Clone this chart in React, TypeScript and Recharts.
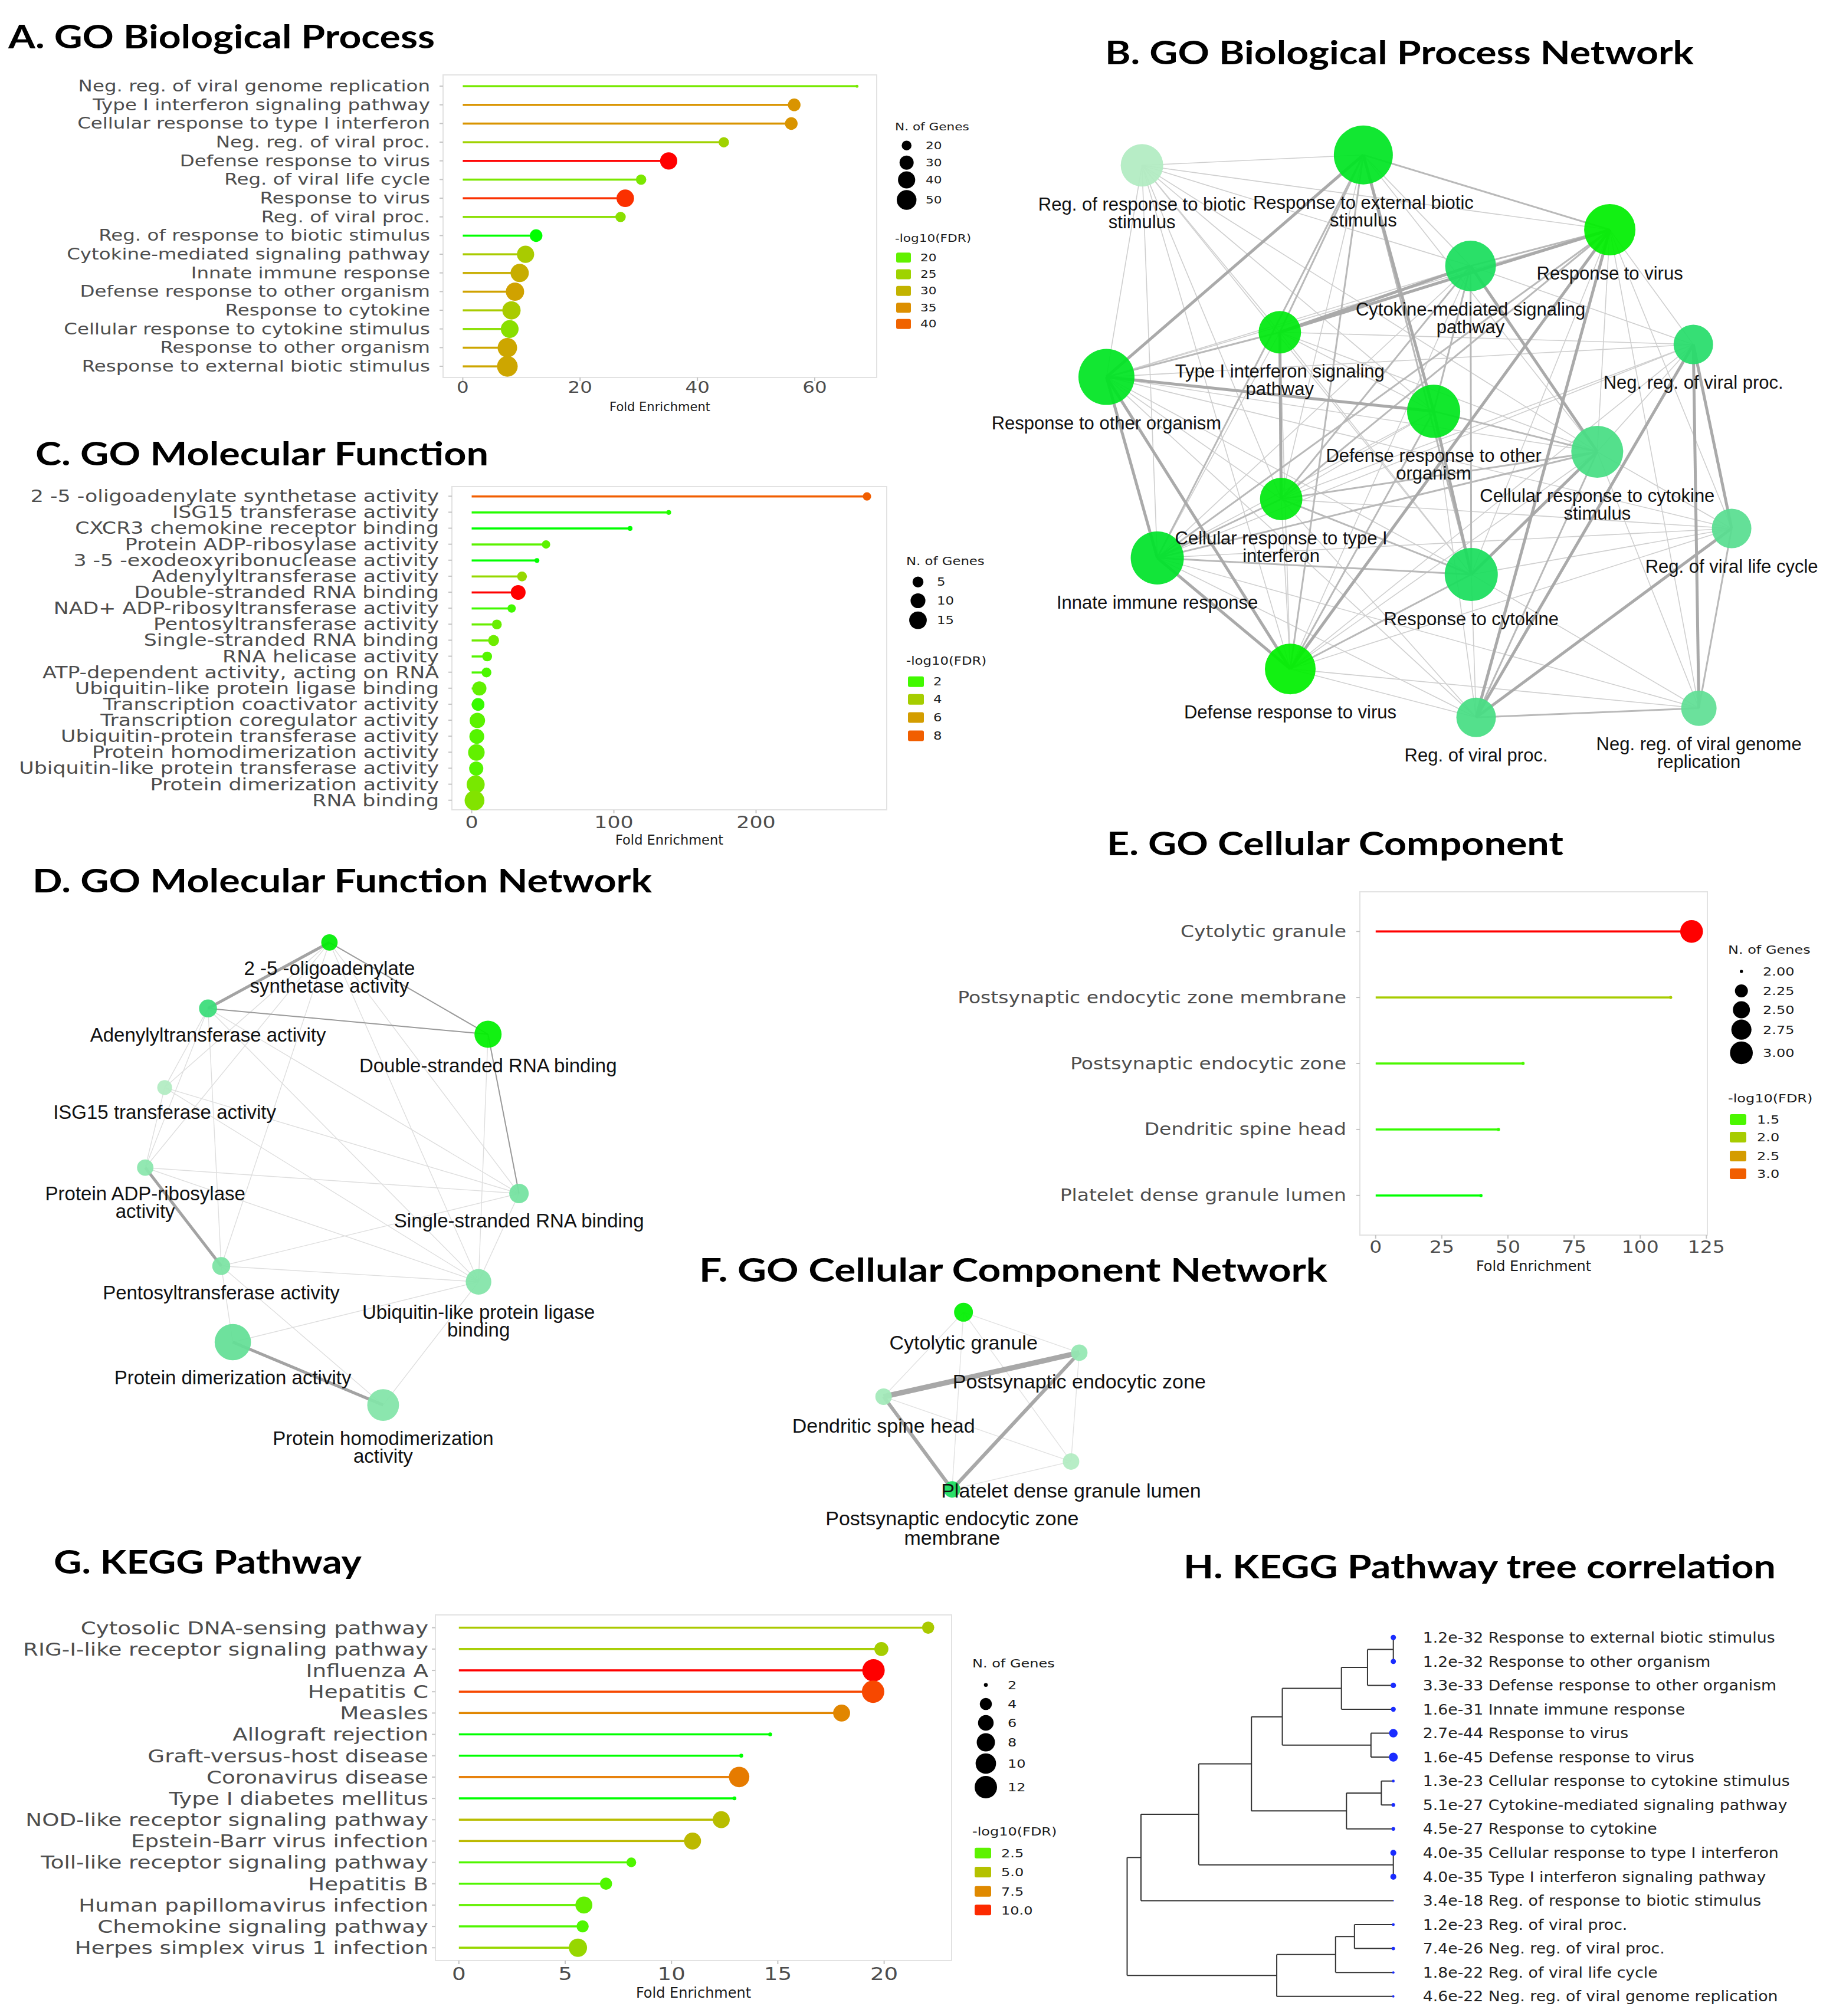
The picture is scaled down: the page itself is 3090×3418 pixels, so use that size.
import React from "react";
import { BarChart, Bar, XAxis, YAxis, ScatterChart, Scatter } from "recharts";

const GG_FONT = "'DejaVu Sans', Verdana, sans-serif";
const NET_FONT = "'Liberation Sans', Arial, sans-serif";
const TITLE_FONT = "Lato, 'Open Sans', sans-serif";

// ---- A. GO Biological Process ----
const bpTerms = [
  "Neg. reg. of viral genome replication",
  "Type I interferon signaling pathway",
  "Cellular response to type I interferon",
  "Neg. reg. of viral proc.",
  "Defense response to virus",
  "Reg. of viral life cycle",
  "Response to virus",
  "Reg. of viral proc.",
  "Reg. of response to biotic stimulus",
  "Cytokine-mediated signaling pathway",
  "Innate immune response",
  "Defense response to other organism",
  "Response to cytokine",
  "Cellular response to cytokine stimulus",
  "Response to other organism",
  "Response to external biotic stimulus",
];
const bpFold = [67.2, 56.5, 56.0, 44.5, 35.1, 30.4, 27.7, 26.9, 12.5, 10.7, 9.7, 8.9, 8.3, 8.0, 7.6, 7.6];
const bpGenes = [14, 26, 26, 21, 40, 21, 41, 21, 26, 40, 44, 44, 44, 42, 49, 54];
const bpLogFdr = [21.3, 34.4, 34.4, 25.1, 44.8, 21.7, 43.6, 22.9, 17.5, 26.3, 30.8, 32.5, 26.3, 22.9, 31.9, 31.9];
const bpSizeBreaks = [20, 30, 40, 50];
const bpColorBreaks = [20, 25, 30, 35, 40];

// ---- C. GO Molecular Function ----
const mfTerms = [
  "2 -5 -oligoadenylate synthetase activity",
  "ISG15 transferase activity",
  "CXCR3 chemokine receptor binding",
  "Protein ADP-ribosylase activity",
  "3 -5 -exodeoxyribonuclease activity",
  "Adenylyltransferase activity",
  "Double-stranded RNA binding",
  "NAD+ ADP-ribosyltransferase activity",
  "Pentosyltransferase activity",
  "Single-stranded RNA binding",
  "RNA helicase activity",
  "ATP-dependent activity, acting on RNA",
  "Ubiquitin-like protein ligase binding",
  "Transcription coactivator activity",
  "Transcription coregulator activity",
  "Ubiquitin-protein transferase activity",
  "Protein homodimerization activity",
  "Ubiquitin-like protein transferase activity",
  "Protein dimerization activity",
  "RNA binding",
];
const mfFold = [278, 138.6, 111.4, 52.3, 45.9, 35.4, 32.7, 28.1, 17.7, 15.4, 10.9, 10.4, 5.4, 4.5, 4.0, 3.6, 3.3, 3.2, 2.8, 2.0];
const mfGenes = [3, 2, 2, 3, 2, 4, 10, 3, 4, 5, 4, 4, 9, 7, 11, 10, 13, 9, 16, 20];
const mfLogFdr = [8.0, 1.8, 1.7, 2.3, 1.7, 3.5, 9.2, 2.0, 2.5, 2.6, 2.2, 2.1, 2.4, 1.9, 2.3, 2.2, 2.4, 2.2, 2.8, 3.0];
const mfSizeBreaks = [5, 10, 15];
const mfColorBreaks = [2, 4, 6, 8];

// ---- E. GO Cellular Component ----
const ccTerms = [
  "Cytolytic granule",
  "Postsynaptic endocytic zone membrane",
  "Postsynaptic endocytic zone",
  "Dendritic spine head",
  "Platelet dense granule lumen",
];
const ccFold = [119.4, 111.5, 55.7, 46.4, 39.8];
const ccGenes = [3, 2, 2, 2, 2];
const ccLogFdr = [3.3, 2.0, 1.5, 1.45, 1.4];
const ccSizeBreaks = [2, 2.25, 2.5, 2.75, 3];
const ccColorBreaks = [1.5, 2, 2.5, 3];

// ---- G. KEGG Pathway ----
const keggTerms = [
  "Cytosolic DNA-sensing pathway",
  "RIG-I-like receptor signaling pathway",
  "Influenza A",
  "Hepatitis C",
  "Measles",
  "Allograft rejection",
  "Graft-versus-host disease",
  "Coronavirus disease",
  "Type I diabetes mellitus",
  "NOD-like receptor signaling pathway",
  "Epstein-Barr virus infection",
  "Toll-like receptor signaling pathway",
  "Hepatitis B",
  "Human papillomavirus infection",
  "Chemokine signaling pathway",
  "Herpes simplex virus 1 infection",
];
const keggFold = [22.07, 19.87, 19.5, 19.48, 18.0, 14.64, 13.28, 13.18, 12.96, 12.34, 10.99, 8.11, 6.92, 5.88, 5.82, 5.6];
const keggGenes = [4, 5, 12, 12, 7, 2, 2, 10, 2, 7, 7, 3, 4, 7, 4, 8];
const keggLogFdr = [4.6, 4.4, 10.3, 9.5, 7.6, 1.8, 1.8, 8.0, 1.8, 5.2, 5.4, 2.3, 2.3, 2.6, 2.3, 3.9];
const keggSizeBreaks = [2, 4, 6, 8, 10, 12];
const keggColorBreaks = [2.5, 5, 7.5, 10];

// ---- B. BP network (layout units 0-100) ----
type Edge = [number, number, number];
const bpNetTerms = [
  "Reg. of response to biotic stimulus",
  "Response to external biotic stimulus",
  "Response to virus",
  "Cytokine-mediated signaling pathway",
  "Type I interferon signaling pathway",
  "Neg. reg. of viral proc.",
  "Response to other organism",
  "Defense response to other organism",
  "Cellular response to cytokine stimulus",
  "Cellular response to type I interferon",
  "Reg. of viral life cycle",
  "Innate immune response",
  "Response to cytokine",
  "Defense response to virus",
  "Reg. of viral proc.",
  "Neg. reg. of viral genome replication",
];
const bpNetLabels = [
  "Reg. of response to biotic\nstimulus",
  "Response to external biotic\nstimulus",
  "Response to virus",
  "Cytokine-mediated signaling\npathway",
  "Type I interferon signaling\npathway",
  "Neg. reg. of viral proc.",
  "Response to other organism",
  "Defense response to other\norganism",
  "Cellular response to cytokine\nstimulus",
  "Cellular response to type I\ninterferon",
  "Reg. of viral life cycle",
  "Innate immune response",
  "Response to cytokine",
  "Defense response to virus",
  "Reg. of viral proc.",
  "Neg. reg. of viral genome\nreplication",
];
const bpNetX = [9.8, 41.6, 77.0, 57.0, 29.6, 89.0, 4.7, 51.7, 75.2, 29.8, 94.5, 12.0, 57.1, 31.1, 57.8, 89.8];
const bpNetY = [5.8, 4.1, 16.3, 22.2, 33.0, 35.0, 40.3, 45.9, 52.5, 60.2, 65.0, 69.8, 72.5, 87.9, 95.8, 94.3];
const bpNetEdges: Edge[] = [
  [0, 1, 1], [0, 2, 1], [0, 3, 1], [0, 4, 1], [0, 6, 1], [0, 7, 1], [0, 8, 1], [0, 9, 1], [0, 11, 1], [0, 12, 1], [0, 13, 1],
  [1, 2, 2], [1, 3, 1], [1, 4, 2], [1, 6, 3], [1, 7, 3], [1, 8, 1], [1, 9, 1], [1, 11, 2], [1, 12, 2], [1, 13, 2],
  [2, 3, 2], [2, 4, 3], [2, 5, 1], [2, 6, 1], [2, 8, 1], [2, 9, 2], [2, 10, 1], [2, 11, 2], [2, 12, 1], [2, 13, 3], [2, 14, 3], [2, 15, 1],
  [3, 4, 3], [3, 5, 1], [3, 6, 1], [3, 7, 2], [3, 8, 3], [3, 9, 2], [3, 11, 1], [3, 12, 2], [3, 13, 1],
  [4, 5, 1], [4, 6, 2], [4, 7, 1], [4, 8, 1], [4, 9, 3], [4, 11, 1], [4, 12, 1], [4, 13, 1],
  [5, 6, 1], [5, 8, 1], [5, 9, 1], [5, 10, 3], [5, 11, 1], [5, 13, 1], [5, 14, 3], [5, 15, 3],
  [6, 7, 3], [6, 8, 1], [6, 9, 1], [6, 10, 1], [6, 11, 3], [6, 12, 1], [6, 13, 3], [6, 14, 1],
  [7, 8, 2], [7, 9, 1], [7, 11, 1], [7, 12, 3], [7, 13, 2], [7, 14, 1],
  [8, 9, 2], [8, 10, 1], [8, 11, 2], [8, 12, 3], [8, 13, 1], [8, 14, 2], [8, 15, 1],
  [9, 10, 1], [9, 11, 2], [9, 12, 2], [9, 13, 1], [9, 14, 1],
  [10, 11, 1], [10, 12, 1], [10, 13, 1], [10, 14, 3], [10, 15, 2],
  [11, 12, 2], [11, 13, 3], [11, 14, 1], [11, 15, 1],
  [12, 13, 2], [12, 14, 1], [12, 15, 1],
  [13, 14, 1], [13, 15, 1],
  [14, 15, 2],
];

// ---- D. MF network ----
const mfNetTerms = [
  "2 -5 -oligoadenylate synthetase activity",
  "Adenylyltransferase activity",
  "Double-stranded RNA binding",
  "ISG15 transferase activity",
  "Protein ADP-ribosylase activity",
  "Single-stranded RNA binding",
  "Pentosyltransferase activity",
  "Ubiquitin-like protein ligase binding",
  "Protein dimerization activity",
  "Protein homodimerization activity",
];
const mfNetLabels = [
  "2 -5 -oligoadenylate\nsynthetase activity",
  "Adenylyltransferase activity",
  "Double-stranded RNA binding",
  "ISG15 transferase activity",
  "Protein ADP-ribosylase\nactivity",
  "Single-stranded RNA binding",
  "Pentosyltransferase activity",
  "Ubiquitin-like protein ligase\nbinding",
  "Protein dimerization activity",
  "Protein homodimerization\nactivity",
];
const mfNetX = [51.2, 21.8, 89.6, 11.3, 6.6, 97.1, 25.0, 87.3, 27.8, 64.2];
const mfNetY = [4.4, 17.4, 22.5, 33.0, 48.8, 53.9, 68.2, 71.3, 83.2, 95.6];
const mfNetEdges: Edge[] = [
  [0, 1, 3], [4, 6, 3], [8, 9, 3],
  [0, 2, 2], [1, 2, 2], [2, 5, 2],
  [0, 3, 1], [0, 4, 1], [0, 5, 1], [0, 6, 1], [0, 7, 1],
  [1, 3, 1], [1, 4, 1], [1, 5, 1], [1, 6, 1], [1, 7, 1],
  [3, 4, 1], [3, 5, 1], [3, 7, 1], [4, 5, 1], [4, 7, 1],
  [5, 6, 1], [5, 7, 1], [6, 7, 1], [6, 8, 1], [6, 9, 1],
  [7, 8, 1], [7, 9, 1], [2, 7, 1],
];

// ---- F. CC network ----
const ccNetTerms = [
  "Cytolytic granule",
  "Postsynaptic endocytic zone",
  "Dendritic spine head",
  "Platelet dense granule lumen",
  "Postsynaptic endocytic zone membrane",
];
const ccNetLabels = [
  "Cytolytic granule",
  "Postsynaptic endocytic zone",
  "Dendritic spine head",
  "Platelet dense granule lumen",
  "Postsynaptic endocytic zone\nmembrane",
];
const ccNetX = [40.7, 84.3, 10.6, 81.2, 36.4];
const ccNetY = [7.1, 26.7, 48.0, 79.4, 92.9];
const ccNetEdges: Edge[] = [
  [1, 2, 3], [2, 4, 2], [1, 4, 2],
  [0, 1, 1], [0, 2, 1], [0, 3, 1], [0, 4, 1], [1, 3, 1], [2, 3, 1], [3, 4, 1],
];

// ---- H. tree ----
const treeFdr = ["1.2e-32", "1.2e-32", "3.3e-33", "1.6e-31", "2.7e-44", "1.6e-45", "1.3e-23", "5.1e-27", "4.5e-27", "4.0e-35", "4.0e-35", "3.4e-18", "1.2e-23", "7.4e-26", "1.8e-22", "4.6e-22"];
const treeNames = [
  "Response to external biotic stimulus",
  "Response to other organism",
  "Defense response to other organism",
  "Innate immune response",
  "Response to virus",
  "Defense response to virus",
  "Cellular response to cytokine stimulus",
  "Cytokine-mediated signaling pathway",
  "Response to cytokine",
  "Cellular response to type I interferon",
  "Type I interferon signaling pathway",
  "Reg. of response to biotic stimulus",
  "Reg. of viral proc.",
  "Neg. reg. of viral proc.",
  "Reg. of viral life cycle",
  "Neg. reg. of viral genome replication",
];
// hclust style: negative = leaf, positive = earlier merge; third = height
const treeMerges: Edge[] = [
  [-1, -2, 0], [1, -3, 0.097], [2, -4, 0.195], [-5, -6, 0.084], [3, 4, 0.417],
  [-7, -8, 0.045], [6, -9, 0.176], [5, 7, 0.533], [-10, -11, 0], [8, 9, 0.731],
  [10, -12, 0.948], [-13, -14, 0.146], [12, -15, 0.217], [13, -16, 0.438], [11, 14, 1],
];

// ---- colour helpers (ggplot-like Lab gradient green -> red) ----
function lin(c: number) {
  c /= 255;
  return c <= 0.04045 ? c / 12.92 : Math.pow((c + 0.055) / 1.055, 2.4);
}
function gam(c: number) {
  const v = c <= 0.0031308 ? 12.92 * c : 1.055 * Math.pow(c, 1 / 2.4) - 0.055;
  return Math.round(Math.min(1, Math.max(0, v)) * 255);
}
function toLab(rgb: number[]) {
  const [R, G, B] = rgb.map(lin);
  const f = (t: number) => (t > 0.008856 ? Math.cbrt(t) : 7.787 * t + 16 / 116);
  const fx = f((0.4124 * R + 0.3576 * G + 0.1805 * B) / 0.95047);
  const fy = f(0.2126 * R + 0.7152 * G + 0.0722 * B);
  const fz = f((0.0193 * R + 0.1192 * G + 0.9505 * B) / 1.08883);
  return [116 * fy - 16, 500 * (fx - fy), 200 * (fy - fz)];
}
function fromLab([L, a, b]: number[]) {
  const fy = (L + 16) / 116;
  const inv = (t: number) => (t ** 3 > 0.008856 ? t ** 3 : (t - 16 / 116) / 7.787);
  const X = 0.95047 * inv(fy + a / 500);
  const Y = inv(fy);
  const Z = 1.08883 * inv(fy - b / 200);
  const r = gam(3.2406 * X - 1.5372 * Y - 0.4986 * Z);
  const g = gam(-0.9689 * X + 1.8758 * Y + 0.0415 * Z);
  const bl = gam(0.0557 * X - 0.204 * Y + 1.057 * Z);
  return `rgb(${r},${g},${bl})`;
}
const LAB_LO = toLab([0, 255, 0]);
const LAB_HI = toLab([255, 0, 0]);
const clamp01 = (t: number) => Math.min(1, Math.max(0, t));
const greenRed = (vals: number[]) => {
  const lo = Math.min(...vals), hi = Math.max(...vals);
  return (v: number) => {
    const t = clamp01((v - lo) / (hi - lo));
    return fromLab(LAB_LO.map((c, i) => c + t * (LAB_HI[i] - c)));
  };
};
const sizeScale = (vals: number[], r0: number, r1: number) => {
  const lo = Math.min(...vals), hi = Math.max(...vals);
  return (v: number) => r0 + (r1 - r0) * Math.sqrt(clamp01((v - lo) / (hi - lo)));
};

const NODE_STOPS: [number, number[]][] = [
  [0, [178, 236, 194]],
  [0.15, [90, 222, 145]],
  [0.3, [30, 221, 100]],
  [0.45, [0, 226, 50]],
  [0.65, [0, 234, 8]],
  [1, [0, 240, 0]],
];
const nodeColor = (vals: number[]) => {
  const lo = Math.min(...vals), hi = Math.max(...vals);
  return (v: number) => {
    const t = clamp01((v - lo) / (hi - lo));
    let k = 0;
    while (k < NODE_STOPS.length - 2 && t > NODE_STOPS[k + 1][0]) k++;
    const [t0, c0] = NODE_STOPS[k];
    const [t1, c1] = NODE_STOPS[k + 1];
    const u = (t - t0) / (t1 - t0);
    return `rgb(${c0.map((c, i) => Math.round(c + u * (c1[i] - c))).join(",")})`;
  };
};
const pick = (terms: string[], names: string[], vals: number[]) => names.map((n) => vals[terms.indexOf(n)]);

const bpColor = greenRed(bpLogFdr);
const bpRadius = sizeScale(bpGenes, 2.5, 17.5);
const mfColor = greenRed(mfLogFdr);
const mfRadius = sizeScale(mfGenes, 4.1, 16.8);
const ccColor = greenRed(ccLogFdr);
const ccRadius = sizeScale(ccGenes, 2.7, 19.3);
const keggColor = greenRed(keggLogFdr);
const keggRadius = sizeScale(keggGenes, 3.3, 19);

// ---------------- components ----------------
type LolliSpec = {
  terms: string[]; fold: number[]; genes: number[]; logFdr: number[];
  color: (v: number) => string; radius: (v: number) => number;
  left: number; top: number; width: number; height: number;
  mTop: number; mRight: number; yWidth: number; xHeight: number;
  ticks: number[]; font: number; sx: number; yTickMargin: number; xTickMargin: number;
  labelOffset: number; labelFont: number;
};

function Lollipop(p: LolliSpec) {
  const data = p.terms.map((name, i) => ({ name, fe: p.fold[i], genes: p.genes[i], fdr: p.logFdr[i] }));
  const top = Math.max(...p.fold);
  const domain = [-0.05 * top, 1.05 * top];
  const plotH = p.height - p.mTop - p.xHeight;
  const pad = (0.1 * plotH) / (data.length + 0.2);
  const x0 = p.left + p.yWidth;
  const x1 = p.left + p.width - p.mRight;
  const y0 = p.top + p.mTop;
  const y1 = p.top + p.height - p.xHeight;
  return (
    <>
      <div
        style={{
          position: "absolute", left: x0 - 1, top: y0 - 1, width: x1 - x0 + 2, height: y1 - y0 + 2,
          border: "2px solid #e2e2e2", boxSizing: "border-box",
        }}
      />
      <div style={{ position: "absolute", left: p.left, top: p.top }}>
        <BarChart layout="vertical" width={p.width} height={p.height} data={data}
          margin={{ top: p.mTop, right: p.mRight, bottom: 0, left: 0 }}>
          <XAxis type="number" domain={domain} ticks={p.ticks} height={p.xHeight}
            axisLine={false} tickLine={{ stroke: "#c4c4c4", strokeWidth: 2 }} tickSize={6} tickMargin={p.xTickMargin}
            tick={(t: any) => (
              <text transform={`translate(${t.x},${t.y}) scale(${p.sx},1)`} textAnchor="middle" dy="0.71em"
                fontSize={p.font} fontFamily={GG_FONT} fill="#4d4d4d">{t.payload.value}</text>
            )}
            label={{ value: "Fold Enrichment", position: "insideBottom", offset: p.labelOffset,
              fontSize: p.labelFont, fontFamily: GG_FONT, fill: "#1a1a1a" }} />
          <YAxis type="category" dataKey="name" width={p.yWidth} interval={0} padding={{ top: pad, bottom: pad }}
            axisLine={false} tickLine={{ stroke: "#c4c4c4", strokeWidth: 2 }} tickSize={6} tickMargin={p.yTickMargin}
            tick={(t: any) => (
              <text transform={`translate(${t.x},${t.y}) scale(${p.sx},1)`} textAnchor="end" dominantBaseline="central"
                fontSize={p.font} fontFamily={GG_FONT} fill="#4d4d4d">{t.payload.value}</text>
            )} />
          <Bar dataKey="fe" barSize={4} isAnimationActive={false}
            shape={(s: any) => {
              const c = p.color(s.payload.fdr);
              const cy = s.y + s.height / 2;
              return (
                <g>
                  <rect x={s.x} y={cy - 1.75} width={Math.max(0, s.width)} height={3.5} fill={c} />
                  <circle cx={s.x + s.width} cy={cy} r={p.radius(s.payload.genes)} fill={c} />
                </g>
              );
            }} />
        </BarChart>
      </div>
    </>
  );
}

type NetSpec = {
  labels: string[]; xs: number[]; ys: number[]; genes: number[]; logFdr: number[]; edges: Edge[];
  left: number; top: number; width: number; height: number;
  margin: { top: number; right: number; bottom: number; left: number };
  radius: (g: number) => number; font: number; gap: number; lineH: number;
  look: Record<number, { stroke: string; width: number }>;
};

function Network(p: NetSpec) {
  const fill = nodeColor(p.logFdr);
  const nodes = p.xs.map((x, i) => ({ x, y: p.ys[i], label: p.labels[i], genes: p.genes[i], fdr: p.logFdr[i] }));
  const edges = [...p.edges].sort((a, b) => a[2] - b[2]);
  return (
    <div style={{ position: "absolute", left: p.left, top: p.top }}>
      <ScatterChart width={p.width} height={p.height} margin={p.margin}>
        <XAxis type="number" dataKey="x" domain={[0, 100]} hide />
        <YAxis type="number" dataKey="y" domain={[0, 100]} reversed hide />
        {edges.map(([a, b, w], i) => (
          <Scatter key={`e${i}`} data={[nodes[a], nodes[b]]} isAnimationActive={false}
            line={{ stroke: p.look[w].stroke, strokeWidth: p.look[w].width }} shape={() => <g />} />
        ))}
        <Scatter data={nodes} isAnimationActive={false}
          shape={(s: any) => (
            <circle cx={s.cx} cy={s.cy} r={p.radius(s.payload.genes)} fill={fill(s.payload.fdr)} fillOpacity={0.93} />
          )} />
        <Scatter data={nodes} isAnimationActive={false}
          shape={(s: any) => {
            const r = p.radius(s.payload.genes);
            const lines: string[] = s.payload.label.split("\n");
            return (
              <text textAnchor="middle" dominantBaseline="central" fontSize={p.font} fontFamily={NET_FONT} fill="#111">
                {lines.map((ln, k) => (
                  <tspan key={k} x={s.cx} y={s.cy + r + p.gap + k * p.lineH}>{ln}</tspan>
                ))}
              </text>
            );
          }} />
      </ScatterChart>
    </div>
  );
}

function Dendrogram() {
  const leaves = treeNames.map((_, i) => ({ x: 0, y: i, v: -Math.log10(parseFloat(treeFdr[i])) }));
  const vMin = Math.min(...leaves.map((l) => l.v));
  const joins: { y: number; h: number }[] = [];
  const segs: { x: number; y: number }[][] = [];
  const at = (c: number) => (c < 0 ? { y: -c - 1, h: 0 } : joins[c - 1]);
  treeMerges.forEach(([a, b, h]) => {
    const A = at(a), B = at(b);
    segs.push([{ x: h, y: A.y }, { x: h, y: B.y }]);
    segs.push([{ x: A.h, y: A.y }, { x: h, y: A.y }]);
    segs.push([{ x: B.h, y: B.y }, { x: h, y: B.y }]);
    joins.push({ y: (A.y + B.y) / 2, h });
  });
  return (
    <div style={{ position: "absolute", left: 1880, top: 2740 }}>
      <ScatterChart width={1210} height={665} margin={{ top: 16, right: 0, bottom: 0, left: 30.5 }}>
        <XAxis type="number" dataKey="x" domain={[0, 1]} reversed hide />
        <YAxis type="number" dataKey="y" orientation="right" width={728.3} domain={[-0.5, 15.5]} reversed
          ticks={treeNames.map((_, i) => i)} interval={0} axisLine={false} tickLine={false} tickSize={0} tickMargin={50}
          tick={(t: any) => (
            <text transform={`translate(${t.x},${t.y}) scale(1.07,1)`} dominantBaseline="central" fontSize={25}
              fontFamily={GG_FONT} fill="#222">{`${treeFdr[t.payload.value]} ${treeNames[t.payload.value]}`}</text>
          )} />
        {segs.map((s, i) => (
          <Scatter key={`s${i}`} data={s} isAnimationActive={false} line={{ stroke: "#333", strokeWidth: 2 }} shape={() => <g />} />
        ))}
        <Scatter data={leaves} isAnimationActive={false}
          shape={(s: any) => <circle cx={s.cx} cy={s.cy} r={1 + (s.payload.v - vMin) * 0.24} fill="#1a2cff" />} />
      </ScatterChart>
    </div>
  );
}

function Title({ x, y, w, children }: { x: number; y: number; w: number; children: string }) {
  return (
    <text x={x} y={y} fontFamily={TITLE_FONT} fontWeight={700} fontSize={56} fill="#000"
      textLength={w} lengthAdjust="spacingAndGlyphs">{children}</text>
  );
}

function GGText({ x, y, size, children }: { x: number; y: number; size: number; children: React.ReactNode }) {
  return (
    <text transform={`translate(${x},${y}) scale(1.2,1)`} dominantBaseline="central" fontSize={size}
      fontFamily={GG_FONT} fill="#1a1a1a">{children}</text>
  );
}

function Legends(p: {
  x: number; font: number;
  sizeTitleY: number; sizeBreaks: number[]; sizeYs: number[]; dotX: number; sizeLabelX: number;
  radius: (v: number) => number; sizeFmt: (v: number) => string;
  colorTitleY: number; colorBreaks: number[]; colorYs: number[]; boxX: number; boxW: number; boxH: number;
  colorLabelX: number; color: (v: number) => string; colorFmt: (v: number) => string;
}) {
  return (
    <g>
      <GGText x={p.x} y={p.sizeTitleY} size={p.font}>N. of Genes</GGText>
      {p.sizeBreaks.map((b, i) => (
        <g key={`s${i}`}>
          <circle cx={p.dotX} cy={p.sizeYs[i]} r={p.radius(b)} fill="#000" />
          <GGText x={p.sizeLabelX} y={p.sizeYs[i]} size={p.font}>{p.sizeFmt(b)}</GGText>
        </g>
      ))}
      <GGText x={p.x} y={p.colorTitleY} size={p.font}>-log10(FDR)</GGText>
      {p.colorBreaks.map((b, i) => (
        <g key={`c${i}`}>
          <rect x={p.boxX} y={p.colorYs[i] - p.boxH / 2} width={p.boxW} height={p.boxH} rx={3} fill={p.color(b)} />
          <GGText x={p.colorLabelX} y={p.colorYs[i]} size={p.font}>{p.colorFmt(b)}</GGText>
        </g>
      ))}
    </g>
  );
}

export default function App() {
  return (
    <div style={{ position: "absolute", left: 0, top: 0, width: 3090, height: 3418, background: "#fff", overflow: "hidden" }}>
      <Lollipop terms={bpTerms} fold={bpFold} genes={bpGenes} logFdr={bpLogFdr} color={bpColor} radius={bpRadius}
        left={0} top={100} width={1520} height={620} mTop={27} mRight={34} yWidth={751} xHeight={80}
        ticks={[0, 20, 40, 60]} font={26} sx={1.25} yTickMargin={16} xTickMargin={2} labelOffset={23} labelFont={21} />
      <Lollipop terms={mfTerms} fold={mfFold} genes={mfGenes} logFdr={mfLogFdr} color={mfColor} radius={mfRadius}
        left={0} top={800} width={1540} height={643} mTop={25} mRight={37} yWidth={766} xHeight={70}
        ticks={[0, 100, 200]} font={29} sx={1.2} yTickMargin={16} xTickMargin={4} labelOffset={11} labelFont={22.5} />
      <Lollipop terms={ccTerms} fold={ccFold} genes={ccGenes} logFdr={ccLogFdr} color={ccColor} radius={ccRadius}
        left={1600} top={1490} width={1340} height={674} mTop={22} mRight={46} yWidth={705} xHeight={70}
        ticks={[0, 25, 50, 75, 100, 125]} font={27.5} sx={1.2} yTickMargin={17} xTickMargin={4} labelOffset={9} labelFont={24} />
      <Lollipop terms={keggTerms} fold={keggFold} genes={keggGenes} logFdr={keggLogFdr} color={keggColor} radius={keggRadius}
        left={0} top={2710} width={1650} height={684} mTop={28} mRight={37} yWidth={738} xHeight={70}
        ticks={[0, 5, 10, 15, 20]} font={31} sx={1.2} yTickMargin={6} xTickMargin={5} labelOffset={7} labelFont={24} />

      <Network labels={bpNetLabels} xs={bpNetX} ys={bpNetY}
        genes={pick(bpTerms, bpNetTerms, bpGenes)} logFdr={pick(bpTerms, bpNetTerms, bpLogFdr)} edges={bpNetEdges}
        left={1650} top={150} width={1440} height={1190} margin={{ top: 70, right: 90, bottom: 80, left: 170 }}
        radius={(g) => 23 + 0.5 * g} font={31} gap={30} lineH={30}
        look={{ 1: { stroke: "#cfcfcf", width: 1.6 }, 2: { stroke: "#b9b9b9", width: 3 }, 3: { stroke: "#aaaaaa", width: 5 } }} />
      <Network labels={mfNetLabels} xs={mfNetX} ys={mfNetY}
        genes={pick(mfTerms, mfNetTerms, mfGenes)} logFdr={pick(mfTerms, mfNetTerms, mfLogFdr)} edges={mfNetEdges}
        left={0} top={1520} width={1200} height={980} margin={{ top: 40, right: 300, bottom: 80, left: 200 }}
        radius={(g) => 10 + 1.3 * g} font={33} gap={29} lineH={30}
        look={{ 1: { stroke: "#dedede", width: 1.4 }, 2: { stroke: "#9a9a9a", width: 2 }, 3: { stroke: "#a3a3a3", width: 5 } }} />
      <Network labels={ccNetLabels} xs={ccNetX} ys={ccNetY}
        genes={pick(ccTerms, ccNetTerms, ccGenes)} logFdr={pick(ccTerms, ccNetTerms, ccLogFdr)} edges={ccNetEdges}
        left={1200} top={2190} width={1100} height={440} margin={{ top: 10, right: 400, bottom: 80, left: 250 }}
        radius={(g) => 10 + 2 * g} font={34} gap={35} lineH={33}
        look={{ 1: { stroke: "#e2e2e2", width: 1.4 }, 2: { stroke: "#a8a8a8", width: 6 }, 3: { stroke: "#a8a8a8", width: 9 } }} />
      <Dendrogram />

      <svg width={3090} height={3418} style={{ position: "absolute", left: 0, top: 0, pointerEvents: "none" }}>
        <Title x={14} y={82} w={723}>A. GO Biological Process</Title>
        <Title x={1873} y={109} w={998}>B. GO Biological Process Network</Title>
        <Title x={60} y={789} w={768}>C. GO Molecular Function</Title>
        <Title x={55} y={1513} w={1050}>D. GO Molecular Function Network</Title>
        <Title x={1876} y={1450} w={774}>E. GO Cellular Component</Title>
        <Title x={1185} y={2173} w={1065}>F. GO Cellular Component  Network</Title>
        <Title x={91} y={2668} w={522}>G. KEGG Pathway</Title>
        <Title x={2006} y={2676} w={1004}>H. KEGG Pathway tree correlation</Title>

        <Legends x={1517} font={18} sizeTitleY={215} sizeBreaks={bpSizeBreaks} sizeYs={[246.7, 275.7, 305, 339]}
          dotX={1536.7} sizeLabelX={1569} radius={bpRadius} sizeFmt={(v) => String(v)}
          colorTitleY={404} colorBreaks={bpColorBreaks} colorYs={[436.7, 465, 493.3, 521.7, 549.3]}
          boxX={1519} boxW={25} boxH={17} colorLabelX={1560} color={bpColor} colorFmt={(v) => String(v)} />
        <Legends x={1536} font={19} sizeTitleY={952} sizeBreaks={mfSizeBreaks} sizeYs={[986.8, 1018.5, 1051.6]}
          dotX={1556} sizeLabelX={1588} radius={mfRadius} sizeFmt={(v) => String(v)}
          colorTitleY={1121} colorBreaks={mfColorBreaks} colorYs={[1155.7, 1185.7, 1216.5, 1247.6]}
          boxX={1539} boxW={27} boxH={18} colorLabelX={1582} color={mfColor} colorFmt={(v) => String(v)} />
        <Legends x={2929} font={20} sizeTitleY={1610} sizeBreaks={ccSizeBreaks} sizeYs={[1647, 1680, 1712, 1745.7, 1785]}
          dotX={2951.7} sizeLabelX={2988} radius={ccRadius} sizeFmt={(v) => v.toFixed(2)}
          colorTitleY={1861.7} colorBreaks={ccColorBreaks} colorYs={[1898, 1928, 1960, 1990]}
          boxX={2932} boxW={28} boxH={18} colorLabelX={2978} color={ccColor} colorFmt={(v) => v.toFixed(1)} />
        <Legends x={1648} font={20} sizeTitleY={2820} sizeBreaks={keggSizeBreaks} sizeYs={[2856.7, 2889, 2921, 2954, 2990, 3030]}
          dotX={1671} sizeLabelX={1708} radius={keggRadius} sizeFmt={(v) => String(v)}
          colorTitleY={3105} colorBreaks={keggColorBreaks} colorYs={[3141.7, 3174, 3206.7, 3238.3]}
          boxX={1652} boxW={28} boxH={18} colorLabelX={1697} color={keggColor} colorFmt={(v) => v.toFixed(1)} />
      </svg>
    </div>
  );
}
